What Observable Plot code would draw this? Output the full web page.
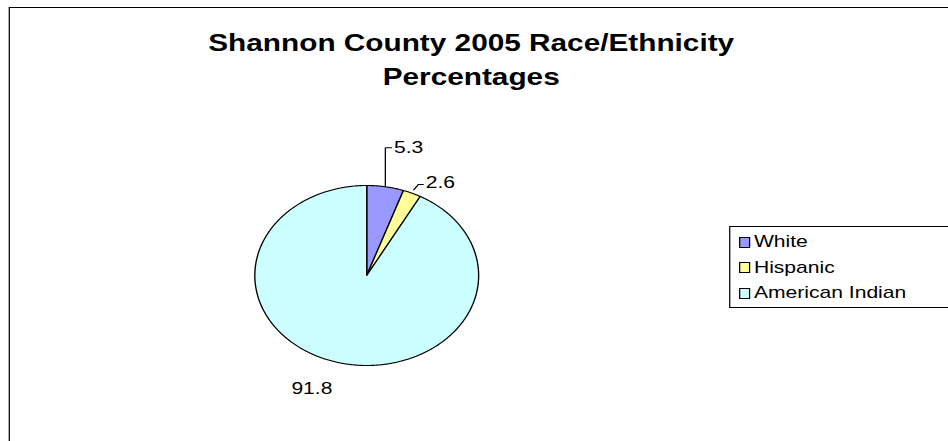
<!DOCTYPE html>
<html>
<head>
<meta charset="utf-8">
<script src="https://cdn.jsdelivr.net/npm/d3@7"></script>
<script src="https://cdn.jsdelivr.net/npm/@observablehq/plot@0.6"></script>
<style>
  html, body { margin: 0; padding: 0; background: #fff; overflow: hidden; }
  #wrap { position: relative; width: 765px; height: 441px; overflow: hidden;
          transform: scaleX(1.24); transform-origin: 0 0; font-family: "Liberation Sans", Arial, sans-serif; }
  #frame { position: absolute; left: 6.5px; top: 7px; width: 900px; height: 600px; border: 1px solid #000; box-sizing: border-box; }
  #title { position: absolute; left: 0; width: 760px; top: 26px; text-align: center; font-weight: bold; font-size: 24px; line-height: 34px; color: #000; }
  #chart { position: absolute; left: 0; top: 0; }
  #legend { position: absolute; left: 588px; top: 226px; width: 300px; height: 82px; border: 1px solid #000; box-sizing: border-box; }
  .row { position: absolute; left: 7px; height: 20px; display: flex; align-items: center; font-size: 17px; color: #000; white-space: nowrap; }
  .sw { width: 7px; height: 9px; border: 1px solid #000; margin-right: 3px; }
</style>
</head>
<body>
<div id="wrap">
  <div id="frame"></div>
  <div id="title">Shannon County 2005 Race/Ethnicity<br>Percentages</div>
  <div id="chart"></div>
  <div id="legend"></div>
</div>
<script>
const categories = ["White", "Hispanic", "American Indian"];
const values = [5.3, 2.6, 91.8];
const colors = ["#9999FF", "#FFFF99", "#CCFFFF"];

const total = d3.sum(values);
const rad = Math.PI / 180;
// slices clockwise from 12 o'clock
let acc = 0;
const slices = categories.map((c, i) => {
  const a0 = acc / total * 360;
  acc += values[i];
  const a1 = acc / total * 360;
  return {name: c, value: values[i], a0, a1, mid: (a0 + a1) / 2};
});
const pol = (deg, r) => [r * Math.sin(deg * rad), r * Math.cos(deg * rad)];

const slicePts = [];
for (const s of slices) {
  slicePts.push({name: s.name, x: 0, y: 0});
  const n = Math.max(2, Math.ceil((s.a1 - s.a0) / 0.5));
  for (let k = 0; k <= n; k++) {
    const [x, y] = pol(s.a0 + (s.a1 - s.a0) * k / n, 1);
    slicePts.push({name: s.name, x, y});
  }
  slicePts.push({name: s.name, x: 0, y: 0});
}

// label layout (leader lines for small slices)
const leaderPts = [];
const outLabels = [];
const midLabels = [];
slices.forEach((s, i) => {
  const [x0, y0] = pol(s.mid, 1);
  if (i === 0) {
    leaderPts.push({k: i, x: x0, y: y0}, {k: i, x: x0, y: 1.42}, {k: i, x: x0 + 0.055, y: 1.42});
    outLabels.push({t: String(s.value), x: x0 + 0.055, y: 1.42});
  } else if (i === 1) {
    const [xa, ya] = pol(s.mid, 1.04);
    leaderPts.push({k: i, x: xa, y: ya}, {k: i, x: xa + 0.04, y: 1.01}, {k: i, x: xa + 0.085, y: 1.01});
    outLabels.push({t: String(s.value), x: xa + 0.085, y: 1.03});
  } else {
    const [xl, yl] = pol(s.mid, 1.3);
    midLabels.push({t: String(s.value), x: xl - 0.17, y: yl});
  }
});

const chart = Plot.plot({
  width: 765,
  height: 441,
  marginLeft: 205,
  marginRight: 379.5,
  marginTop: 185,
  marginBottom: 76,
  x: {domain: [-1, 1], axis: null},
  y: {domain: [-1, 1], axis: null},
  color: {domain: categories, range: colors},
  style: {background: "transparent", overflow: "visible"},
  marks: [
    Plot.line(slicePts, {x: "x", y: "y", z: "name", fill: "name", stroke: "#000", strokeWidth: 1.1, curve: "linear", strokeLinejoin: "round"}),
    Plot.line(leaderPts, {x: "x", y: "y", z: "k", stroke: "#000", strokeWidth: 1, curve: "linear"}),
    Plot.text(outLabels, {x: "x", y: "y", text: "t", textAnchor: "start", dx: 2, fontSize: 17, fill: "#000", fontFamily: "Liberation Sans, Arial, sans-serif"}),
    Plot.text(midLabels, {x: "x", y: "y", text: "t", textAnchor: "middle", fontSize: 17, fill: "#000", fontFamily: "Liberation Sans, Arial, sans-serif"})
  ]
});
document.getElementById("chart").appendChild(chart);

const legend = document.getElementById("legend");
categories.forEach((c, i) => {
  const row = document.createElement("div");
  row.className = "row";
  row.style.top = (5 + i * 25.5) + "px";
  const sw = document.createElement("span");
  sw.className = "sw";
  sw.style.background = colors[i];
  const tx = document.createElement("span");
  tx.textContent = c;
  row.appendChild(sw);
  row.appendChild(tx);
  legend.appendChild(row);
});
</script>
</body>
</html>
